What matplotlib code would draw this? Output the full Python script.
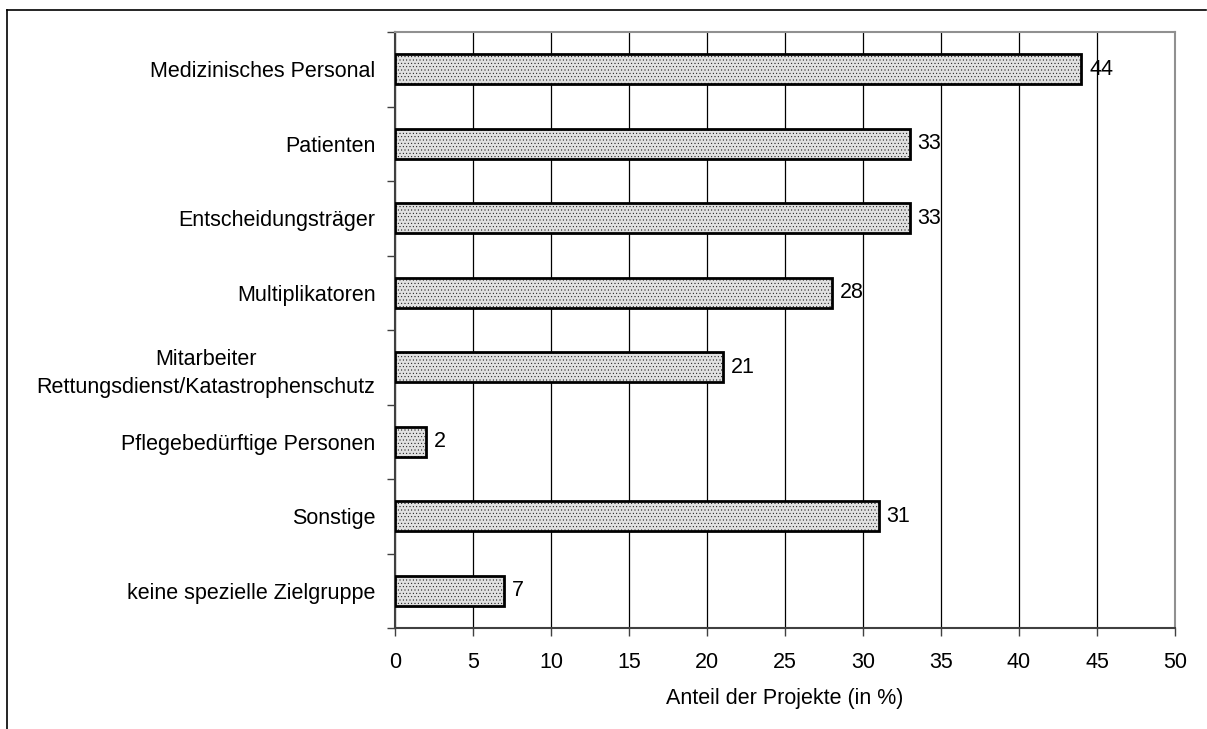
import matplotlib.pyplot as plt

plt.rcParams['font.family'] = ['Liberation Sans', 'DejaVu Sans']
plt.rcParams['hatch.color'] = '#c4c4c4'
plt.rcParams['hatch.linewidth'] = 0.3

# -----------------------------
# Data
# -----------------------------
categories = [
    "Medizinisches Personal",
    "Patienten",
    "Entscheidungsträger",
    "Multiplikatoren",
    "Mitarbeiter\nRettungsdienst/Katastrophenschutz",
    "Pflegebedürftige Personen",
    "Sonstige",
    "keine spezielle Zielgruppe",
]
values = [44, 33, 33, 28, 21, 2, 31, 7]
x_ticks = [0, 5, 10, 15, 20, 25, 30, 35, 40, 45, 50]
x_label = "Anteil der Projekte (in %)"

FS = 15.5

# -----------------------------
# Figure setup
# -----------------------------
fig = plt.figure(figsize=(12.07, 7.29), dpi=100)
ax = fig.add_axes([395 / 1207, 1 - 628 / 729, 780 / 1207, 596 / 729])

# outer frame (left, top)
fig.add_artist(plt.Line2D([7 / 1207, 7 / 1207], [0, 1 - 10 / 729],
                          color="black", lw=1.2, transform=fig.transFigure))
fig.add_artist(plt.Line2D([7 / 1207, 1206 / 1207], [1 - 10 / 729, 1 - 10 / 729],
                          color="black", lw=1.2, transform=fig.transFigure))

n = len(categories)
ypos = list(range(n))

ax.barh(ypos, values, height=0.4, color="#e0e0e0", edgecolor="black",
        linewidth=2, hatch=".....", zorder=3)

for y, v in zip(ypos, values):
    ax.text(v + 0.5, y, str(v), va="center", ha="left", fontsize=FS, zorder=4)

ax.set_xlim(0, 50)
ax.set_ylim(n - 0.5, -0.5)
ax.set_xticks(x_ticks)
ax.set_xticklabels([str(t) for t in x_ticks], fontsize=FS)
ax.set_xlabel(x_label, fontsize=FS, labelpad=11)

ax.set_yticks(ypos)
ax.set_yticklabels(categories, fontsize=FS)
ax.tick_params(axis="y", length=0, pad=14)
for lbl in ax.get_yticklabels():
    lbl.set_multialignment("center")
    lbl.set_linespacing(1.45)
ax.set_yticks([i + 0.5 for i in range(-1, n)], minor=True)
ax.tick_params(axis="y", which="minor", length=6, width=1, color="#404040")
ax.tick_params(axis="x", length=6, width=1, color="#404040", pad=11)

ax.grid(axis="x", color="black", linewidth=0.9, zorder=0)

for side in ["left", "bottom"]:
    ax.spines[side].set_color("#404040")
    ax.spines[side].set_linewidth(1.5)
for side in ["top", "right"]:
    ax.spines[side].set_color("#909090")
    ax.spines[side].set_linewidth(1.5)

fig.savefig("out.png", dpi=100)
